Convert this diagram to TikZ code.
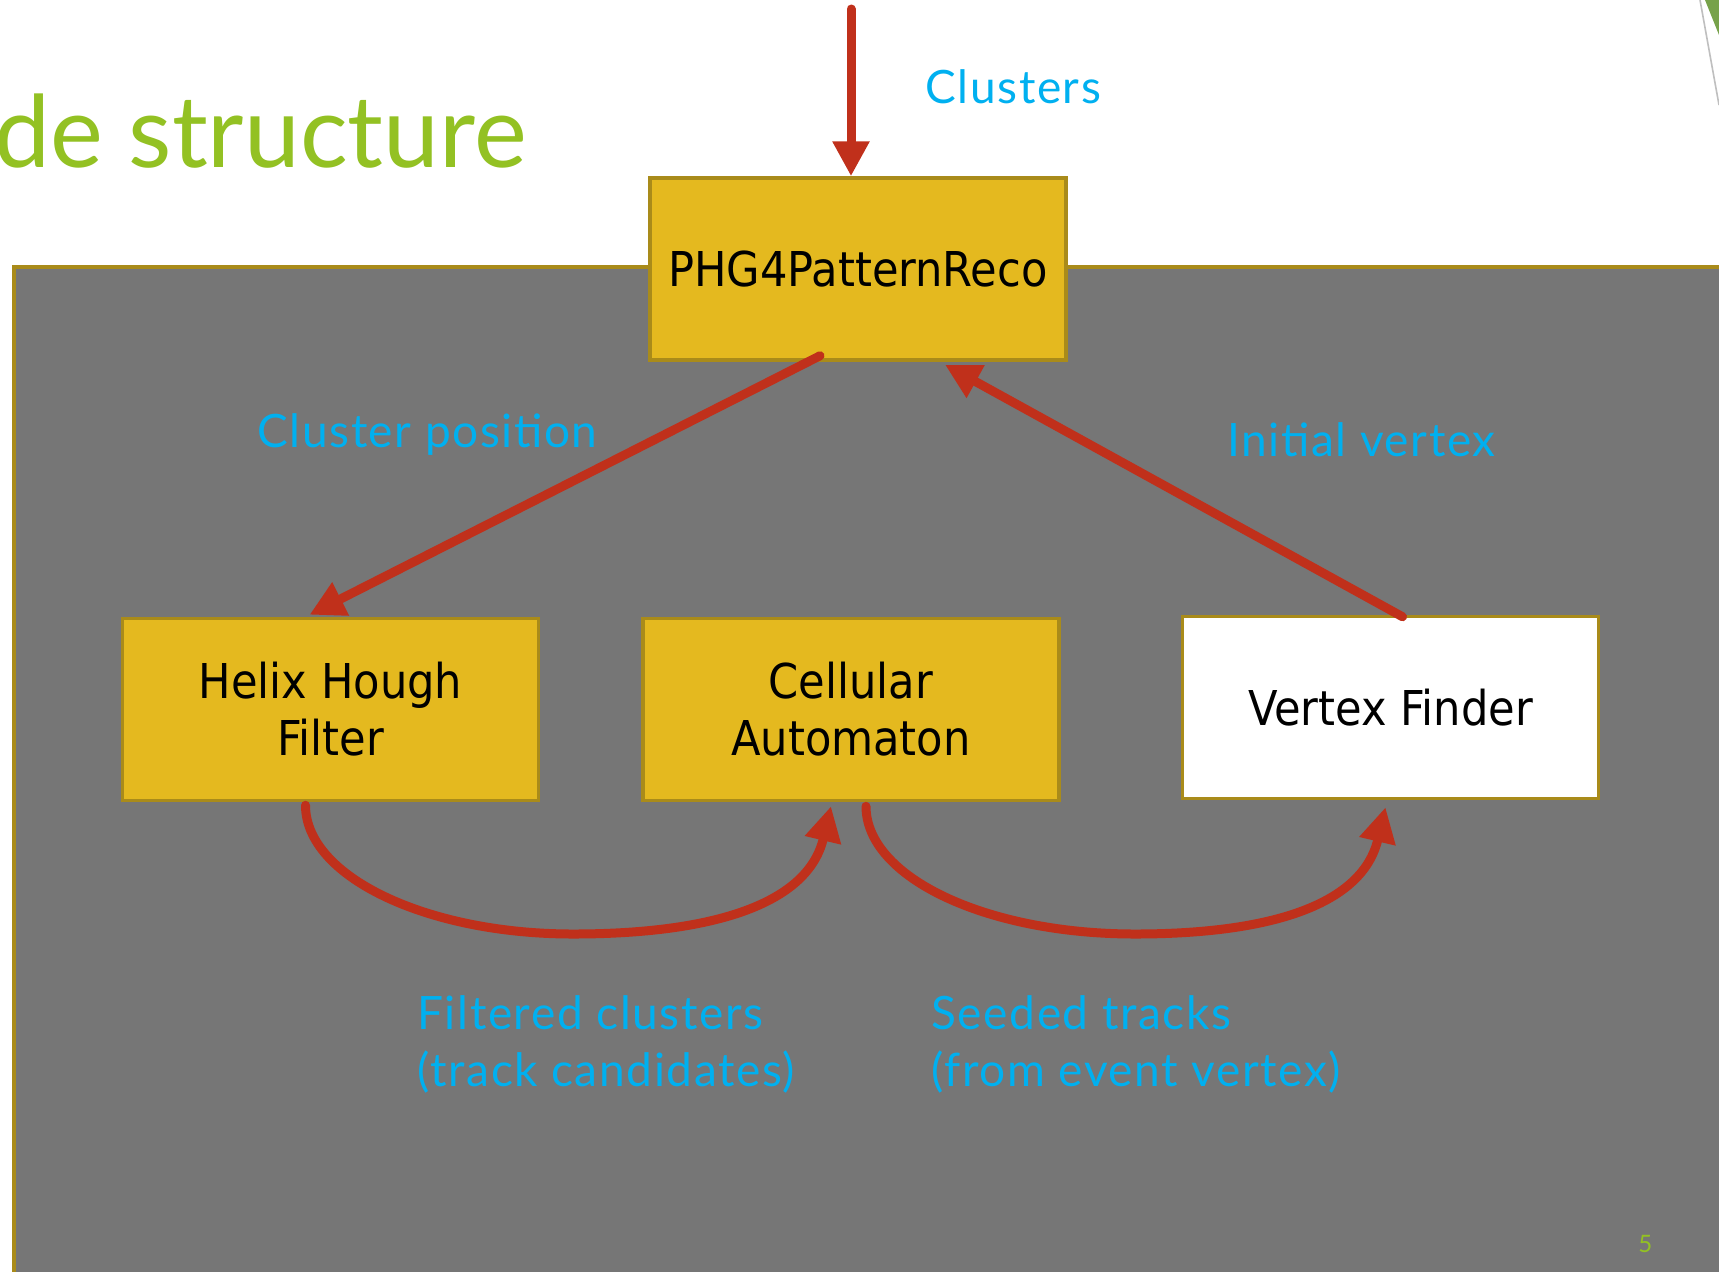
\documentclass[tikz,border=0pt]{standalone}
\usepackage{fontspec}
\setmainfont{Lato}
\newfontfamily\boxfont{DejaVu Sans Condensed}
\newfontfamily\lblfont[LetterSpace=3.5]{Lato}
\usetikzlibrary{positioning, arrows.meta, calc}
\definecolor{panelgray}{HTML}{767676}
\definecolor{boxedge}{HTML}{A98B1A}
\definecolor{boxgold}{HTML}{E4B91F}
\definecolor{arrowred}{HTML}{C0301B}
\definecolor{labelcyan}{HTML}{00B0F0}
\definecolor{titlegreen}{HTML}{93C123}
\definecolor{decogreen}{HTML}{77A24A}

\begin{document}
\begin{tikzpicture}[x=0.5pt, y=-0.5pt,
  block/.style={draw=boxedge, line width=1.75pt, rectangle, minimum width=208pt, minimum height=91pt, align=center, fill=boxgold, font=\boxfont\fontsize{24pt}{28.5pt}\selectfont},
  lbl/.style={inner sep=0pt, align=left, text=labelcyan, font=\lblfont\fontsize{23pt}{28.5pt}\selectfont},
  flow/.style={draw=arrowred, line width=4.5pt, line cap=round, -{Triangle[length=17.5pt, width=17.5pt]}}
]
\useasboundingbox (0,0) rectangle (1719,1271);
\fill[white] (0,0) rectangle (1719,1271);
\draw[draw=boxedge, fill=panelgray, line width=2pt] (14,267) rectangle (1745,1295);
\fill[decogreen] (1705,0) -- (1719,0) -- (1719,35) -- cycle;
\draw[gray!50, line width=0.8pt] (1700,0) -- (1719,105);

\node[anchor=base west, inner sep=0pt, text=titlegreen, font=\fontsize{50pt}{60pt}\selectfont] (title) at (-6,167) {de structure};
\node[anchor=base west, inner sep=0pt, text=titlegreen, font=\fontsize{12pt}{14pt}\selectfont] (pageno) at (1638,1252) {5};

\node[block] (reco) at (858,269) {PHG4PatternReco};
\node[block, below=127.5pt of reco, xshift=-3.5pt] (cell) {Cellular\\Automaton};
\node[block, left=50.5pt of cell] (helix) {Helix Hough\\Filter};
\node[block, fill=white, right=60pt of cell, yshift=1pt] (vertex) {Vertex Finder};

\coordinate (feed) at (851,9);
\coordinate (dip1) at (573,934);
\coordinate (dip2) at (1135,934);

\draw[flow] (feed) -- (feed |- reco.north);
\draw[flow] ($(reco.south)+(-38,-6)$) -- ($(helix.north)+(-21,-2)$);
\draw[flow] ($(vertex.north)+(12,2)$) -- ($(reco.south)+(87,3)$);
\draw[flow] ($(helix.south)+(-25,3)$) .. controls +(0,71) and +(-147,0) .. (dip1)
  .. controls +(142,0) and +(-23,97) .. ($(cell.south)+(-20,4)$);
\draw[flow] ($(cell.south)+(15,4)$) .. controls +(0,71) and +(-149,0) .. (dip2)
  .. controls +(137,0) and +(-23,97) .. ($(vertex.south)+(-5,7)$);

\node[lbl, anchor=base west] (clusterslbl) at (925,103) {Clusters};
\node[lbl, anchor=base west] (poslbl) at (257,447) {Cluster position};
\node[lbl, anchor=base west] (vtxlbl) at (1227,456) {Initial vertex};
\node[lbl, anchor=north west] (filtlbl) at (417,995) {Filtered clusters\\(track candidates)};
\node[lbl, anchor=north west] (seedlbl) at (931,995) {Seeded tracks\\(from event vertex)};
\end{tikzpicture}
\end{document}
